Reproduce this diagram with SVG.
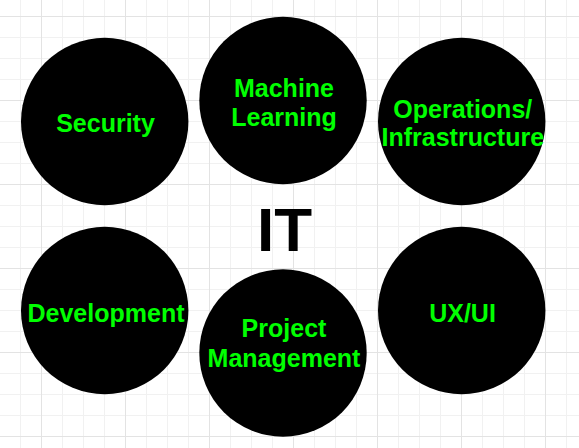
<svg xmlns="http://www.w3.org/2000/svg" width="579" height="448" viewBox="0 0 579 448">
  <style>
    .node { fill: #000000; }
    .lbl { font-family: "Liberation Sans", Arial, sans-serif; font-weight: bold; font-size: 25px; fill: #00ff00; text-anchor: middle; }
    .title { font-family: "Liberation Sans", Arial, sans-serif; font-weight: bold; font-size: 62px; fill: #000000; text-anchor: middle; }
  </style>
  <defs>
    <pattern id="grid" patternUnits="userSpaceOnUse" x="41" y="16" width="84" height="84">
      <rect x="0" y="0" width="84" height="84" fill="#ffffff"/>
      <rect x="21" y="0" width="1" height="84" fill="#f1f1f1"/>
      <rect x="42" y="0" width="1" height="84" fill="#f1f1f1"/>
      <rect x="63" y="0" width="1" height="84" fill="#f1f1f1"/>
      <rect x="0" y="21" width="84" height="1" fill="#f1f1f1"/>
      <rect x="0" y="42" width="84" height="1" fill="#f1f1f1"/>
      <rect x="0" y="63" width="84" height="1" fill="#f1f1f1"/>
      <rect x="0" y="0" width="1" height="84" fill="#e3e3e3"/>
      <rect x="0" y="0" width="84" height="1" fill="#e3e3e3"/>
    </pattern>
  </defs>
  <rect x="0" y="0" width="579" height="448" fill="url(#grid)"/>

  <g id="connectors"></g>

  <g id="security">
    <circle class="node" cx="104.7" cy="121.5" r="83.7"/>
    <text class="lbl" x="105.5" y="132.3">Security</text>
  </g>
  <g id="machine-learning">
    <circle class="node" cx="283" cy="100.5" r="83.7"/>
    <text class="lbl" x="284" y="96.7">Machine</text>
    <text class="lbl" x="284" y="125.7">Learning</text>
  </g>
  <g id="operations">
    <circle class="node" cx="461.7" cy="121.5" r="83.7"/>
    <text class="lbl" x="462.8" y="117.7">Operations/</text>
    <text class="lbl" x="462.8" y="146">Infrastructure</text>
  </g>
  <g id="it">
    <text class="title" x="284.5" y="250.7">IT</text>
  </g>
  <g id="development">
    <circle class="node" cx="104.7" cy="310.5" r="83.7"/>
    <text class="lbl" x="106" y="321.7">Development</text>
  </g>
  <g id="project-management">
    <circle class="node" cx="283" cy="353" r="83.7"/>
    <text class="lbl" x="284" y="337.3">Project</text>
    <text class="lbl" x="284" y="366.7">Management</text>
  </g>
  <g id="ux-ui">
    <circle class="node" cx="461.7" cy="310.5" r="83.7"/>
    <text class="lbl" x="462.5" y="322.3">UX/UI</text>
  </g>
</svg>
